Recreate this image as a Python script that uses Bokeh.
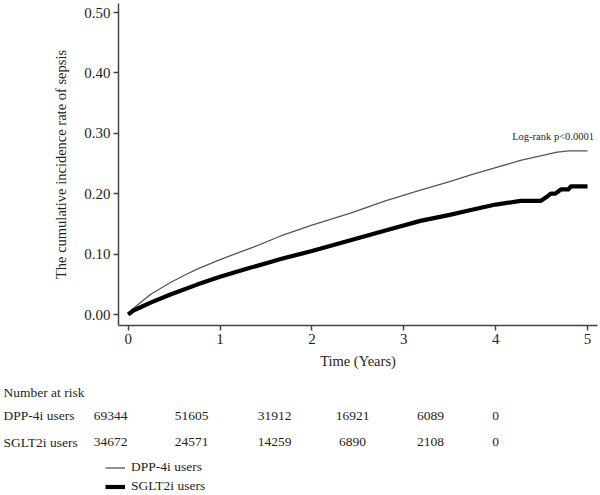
from bokeh.plotting import figure
from bokeh.models import (Range1d, FixedTicker, Label, Legend, LegendItem, LinearAxis,
                          ColumnDataSource)
from bokeh.core.properties import value
from bokeh.embed import file_html
from bokeh.resources import INLINE

# ---------------- data ----------------
years_dpp = [0, 0.05, 0.134, 0.25, 0.46, 0.64, 0.75, 1.0, 1.37, 1.66, 2.0, 2.42, 2.8, 3.18,
             3.5, 3.73, 4.0, 4.27, 4.5, 4.67, 4.8, 5.0]
cum_dpp = [0, 0.009, 0.020, 0.034, 0.053, 0.067, 0.075, 0.091, 0.112, 0.130, 0.148, 0.168,
           0.188, 0.206, 0.220, 0.231, 0.243, 0.255, 0.263, 0.269, 0.271, 0.271]

years_sglt = [0, 0.05, 0.134, 0.25, 0.46, 0.75, 1.0, 1.3, 1.55, 1.66, 2.0, 2.42, 2.8, 3.18,
              3.5, 3.73, 4.0, 4.27, 4.49, 4.55, 4.6, 4.65, 4.71, 4.79, 4.82, 5.0]
cum_sglt = [0, 0.006, 0.012, 0.020, 0.033, 0.0495, 0.0625, 0.076, 0.087, 0.092, 0.105, 0.123,
            0.139, 0.155, 0.165, 0.173, 0.182, 0.188, 0.188, 0.194, 0.200, 0.200, 0.207,
            0.207, 0.212, 0.212]

x_ticks = [0, 1, 2, 3, 4, 5]
y_ticks = [0.0, 0.1, 0.2, 0.3, 0.4, 0.5]

group_names = ["DPP-4i users", "SGLT2i users"]
risk_dpp = [69344, 51605, 31912, 16921, 6089, 0]
risk_sglt = [34672, 24571, 14259, 6890, 2108, 0]
risk_title = "Number at risk"
log_rank_text = "Log-rank p<0.0001"

# ---------------- layout constants (canvas pixels) ----------------
W, H = 600, 495
AX_LEFT_PX, AX_TOP_PX, AX_RIGHT_PX, AX_BOTTOM_PX = 118, 3, 597, 325
X0_PX, X_PER_YEAR = 127.7, 91.86      # pixel of year 0, pixels per year
Y0_PX, Y_PER_UNIT = 314.0, 604.0      # pixel of 0.00, pixels per unit

def xd(px):
    return (px - X0_PX) / X_PER_YEAR

def yd(py):
    return (Y0_PX - py) / Y_PER_UNIT

FONT = "Liberation Serif"
TXT = "#231f20"
AX_COL = "#444444"
THIN_COL = "#555555"

p = figure(width=W, height=H, output_backend="svg", toolbar_location=None,
           x_range=Range1d(xd(0), xd(W)), y_range=Range1d(yd(H), yd(0)),
           x_axis_location=None, y_axis_location=None,
           min_border=0, min_border_left=0, min_border_right=0,
           min_border_top=0, min_border_bottom=0)
p.outline_line_color = None
p.grid.visible = False
p.background_fill_color = "white"
p.border_fill_color = "white"
p.extra_x_ranges = {"px": Range1d(0, W)}
p.extra_y_ranges = {"px": Range1d(H, 0)}

r_dpp = p.line(years_dpp, cum_dpp, line_color=THIN_COL, line_width=1.3)
r_sglt = p.line(years_sglt, cum_sglt, line_color="black", line_width=4.2, line_join="round")

xaxis = LinearAxis(fixed_location=yd(AX_BOTTOM_PX), bounds=(xd(AX_LEFT_PX), xd(AX_RIGHT_PX)),
                   ticker=FixedTicker(ticks=x_ticks),
                   major_label_overrides={t: str(t) for t in x_ticks},
                   axis_label="Time (Years)")
yaxis = LinearAxis(fixed_location=xd(AX_LEFT_PX), bounds=(yd(AX_BOTTOM_PX), yd(AX_TOP_PX)),
                   ticker=FixedTicker(ticks=y_ticks),
                   major_label_overrides={t: f"{t:.2f}" for t in y_ticks},
                   axis_label="The cumulative incidence rate of sepsis")
for ax in (xaxis, yaxis):
    ax.axis_line_color = AX_COL
    ax.axis_line_width = 1.5
    ax.major_tick_line_color = AX_COL
    ax.major_tick_line_width = 1.5
    ax.major_tick_out = 5
    ax.major_tick_in = 0
    ax.minor_tick_line_color = None
    ax.major_label_text_font = FONT
    ax.major_label_text_font_size = "15px"
    ax.major_label_text_color = TXT
    ax.axis_label_text_font = FONT
    ax.axis_label_text_font_size = "14.5px"
    ax.axis_label_text_font_style = "normal"
    ax.axis_label_text_color = TXT
    ax.major_label_standoff = 3
xaxis.axis_label_standoff = 6
yaxis.axis_label_standoff = 12
p.add_layout(xaxis, "below")
p.add_layout(yaxis, "left")

p.add_layout(Label(x=5.07, y=0.285, text=log_rank_text, text_align="right",
                   text_baseline="bottom", text_font=FONT, text_font_size="10.5px",
                   text_color=TXT))

# ---------------- risk table (pixel range) ----------------
TAB_FS = "13.5px"
col_px = [110, 191, 274, 352, 430, 495]
row_py = [415, 441.5]
label_px = 3

p.text(x=[label_px], y=[392], text=[risk_title], x_range_name="px", y_range_name="px",
       text_font=value(FONT), text_font_size=TAB_FS, text_color=TXT,
       text_baseline="middle", text_align="left")
p.text(x=[label_px] * 2, y=row_py, text=group_names, x_range_name="px", y_range_name="px",
       text_font=value(FONT), text_font_size=TAB_FS, text_color=TXT,
       text_baseline="middle", text_align="left")
for counts, py in zip([risk_dpp, risk_sglt], row_py):
    src = ColumnDataSource(dict(x=col_px, y=[py] * len(counts), s=[str(c) for c in counts]))
    p.text(x="x", y="y", text="s", source=src, x_range_name="px", y_range_name="px",
           text_font=value(FONT), text_font_size=TAB_FS, text_color=TXT,
           text_baseline="middle", text_align="center")

# ---------------- legend ----------------
legend = Legend(items=[LegendItem(label=group_names[0], renderers=[r_dpp]),
                       LegendItem(label=group_names[1], renderers=[r_sglt])],
                location=(105, 0.5), orientation="vertical",
                glyph_width=20, glyph_height=17, spacing=2, padding=0, margin=0,
                label_standoff=6, label_text_font=FONT, label_text_font_size=TAB_FS,
                label_text_color=TXT, label_height=17,
                border_line_color=None, background_fill_alpha=0)
p.add_layout(legend)

open("out.html", "w").write(file_html(p, INLINE))
